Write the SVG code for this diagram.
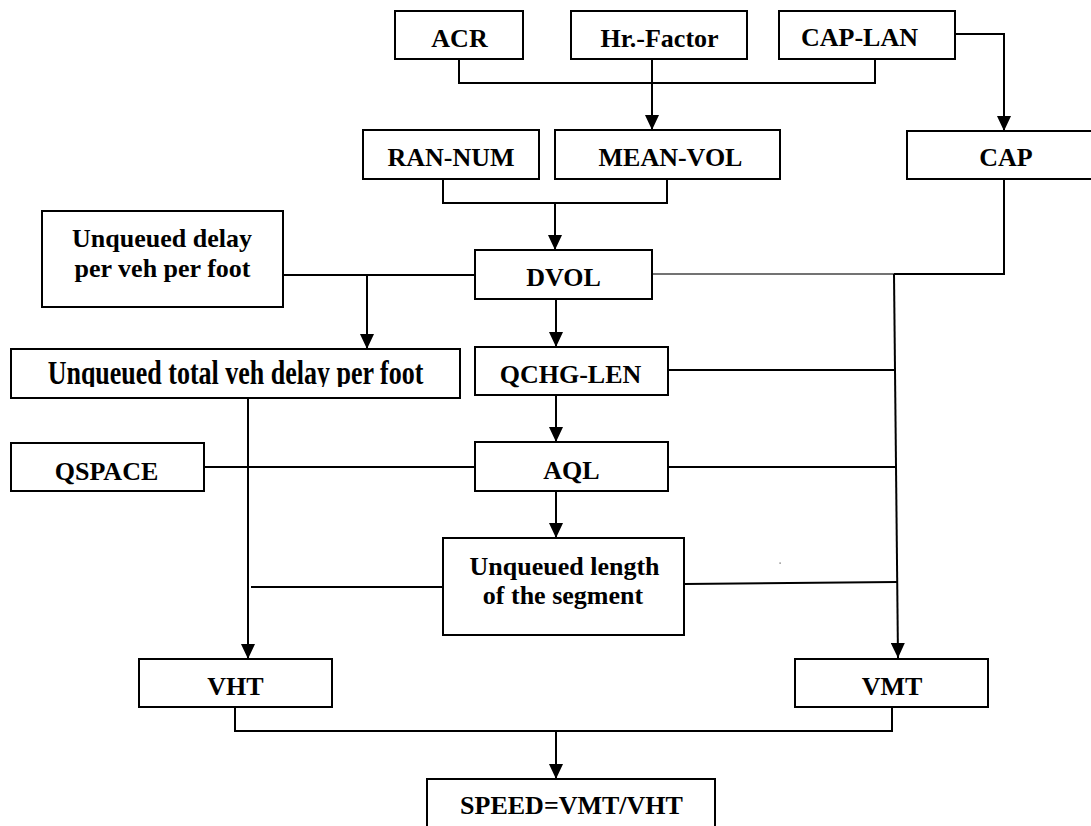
<svg xmlns="http://www.w3.org/2000/svg" width="1091" height="826" viewBox="0 0 1091 826">
  <defs>
    <marker id="arrow" viewBox="0 0 15 14" markerUnits="userSpaceOnUse" markerWidth="15" markerHeight="14" refX="15" refY="7" orient="auto">
      <path d="M0,0 L15,7 L0,14 z" fill="#000"/>
    </marker>
    <clipPath id="clipTotal">
      <rect x="11" y="349" width="449" height="38"/>
    </clipPath>
  </defs>
  <style>
    .box { fill: #fff; stroke: #000; stroke-width: 2; }
    .edge { fill: none; stroke: #000; stroke-width: 2; }
    .thin { fill: none; stroke: #444; stroke-width: 1.5; }
    .lbl { font-family: "Liberation Serif", "Times New Roman", serif; font-weight: bold; font-size: 26px; fill: #000; text-anchor: middle; }
  </style>
  <rect x="0" y="0" width="1091" height="826" fill="#fff"/>

  <!-- connectors -->
  <g id="connectors">
    <path class="edge" d="M459,59 V83 H875 V59"/>
    <path class="edge" d="M652,59 V130" marker-end="url(#arrow)"/>
    <path class="edge" d="M955,34 H1004 V131" marker-end="url(#arrow)"/>
    <path class="edge" d="M443,179 V203 H667 V179"/>
    <path class="edge" d="M555,203 V250" marker-end="url(#arrow)"/>
    <path class="edge" d="M1004,179 V274 H894"/>
    <path class="thin" d="M652,274 H894"/>
    <path class="edge" d="M894,274 L898,658" marker-end="url(#arrow)"/>
    <path class="edge" d="M668,370 H895"/>
    <path class="edge" d="M668,467 H896"/>
    <path class="edge" d="M684,584 L897,582"/>
    <path class="edge" d="M283,275 H475"/>
    <path class="edge" d="M367,275 V349" marker-end="url(#arrow)"/>
    <path class="edge" d="M556,299 V347" marker-end="url(#arrow)"/>
    <path class="edge" d="M556,395 V442" marker-end="url(#arrow)"/>
    <path class="edge" d="M556,491 V538" marker-end="url(#arrow)"/>
    <path class="edge" d="M204,467 H475"/>
    <path class="edge" d="M248,398 V659" marker-end="url(#arrow)"/>
    <path class="edge" d="M251,587 H443"/>
    <path class="edge" d="M235,707 V731 H892 V707"/>
    <path class="edge" d="M556,731 V779" marker-end="url(#arrow)"/>
    <rect x="779.5" y="562.5" width="1.2" height="1.2" fill="#555"/>
  </g>

  <!-- nodes -->
  <g id="acr">
    <rect class="box" x="395" y="11" width="128" height="48"/>
    <text class="lbl" x="459.5" y="47">ACR</text>
  </g>
  <g id="hr-factor">
    <rect class="box" x="571" y="11" width="176" height="48"/>
    <text class="lbl" x="659.5" y="47">Hr.-Factor</text>
  </g>
  <g id="cap-lan">
    <rect class="box" x="779" y="11" width="176" height="48"/>
    <text class="lbl" x="859.5" y="46">CAP-LAN</text>
  </g>
  <g id="ran-num">
    <rect class="box" x="363" y="130" width="176" height="49"/>
    <text class="lbl" x="451" y="166">RAN-NUM</text>
  </g>
  <g id="mean-vol">
    <rect class="box" x="555" y="130" width="225" height="49"/>
    <text class="lbl" x="670.5" y="166">MEAN-VOL</text>
  </g>
  <g id="cap">
    <rect x="907" y="131" width="190" height="48" fill="#fff"/>
    <path class="edge" d="M1095,131 H907 V179 H1095"/>
    <text class="lbl" x="1006" y="166">CAP</text>
  </g>
  <g id="unqueued-delay">
    <rect class="box" x="42" y="211" width="241" height="96"/>
    <text class="lbl" x="162" y="247">Unqueued delay</text>
    <text class="lbl" x="162.5" y="277">per veh per foot</text>
  </g>
  <g id="dvol">
    <rect class="box" x="475" y="250" width="177" height="49"/>
    <text class="lbl" x="563.5" y="286">DVOL</text>
  </g>
  <g id="unqueued-total">
    <rect class="box" x="11" y="349" width="449" height="49"/>
    <g clip-path="url(#clipTotal)">
      <text class="lbl" transform="translate(235.5,384) scale(1,1.27)" x="0" y="0">Unqueued total veh delay per foot</text>
    </g>
  </g>
  <g id="qchg-len">
    <rect class="box" x="475" y="347" width="193" height="48"/>
    <text class="lbl" x="570.5" y="383">QCHG-LEN</text>
  </g>
  <g id="qspace">
    <rect class="box" x="11" y="443" width="193" height="48"/>
    <text class="lbl" x="106.5" y="480">QSPACE</text>
  </g>
  <g id="aql">
    <rect class="box" x="475" y="442" width="193" height="49"/>
    <text class="lbl" x="571.5" y="479">AQL</text>
  </g>
  <g id="unqueued-length">
    <rect class="box" x="443" y="538" width="241" height="97"/>
    <text class="lbl" x="564.5" y="575">Unqueued length</text>
    <text class="lbl" x="563" y="604">of the segment</text>
  </g>
  <g id="vht">
    <rect class="box" x="139" y="659" width="193" height="48"/>
    <text class="lbl" x="235.5" y="695">VHT</text>
  </g>
  <g id="vmt">
    <rect class="box" x="795" y="659" width="193" height="48"/>
    <text class="lbl" x="892" y="695">VMT</text>
  </g>
  <g id="speed">
    <rect class="box" x="427" y="779" width="288" height="60"/>
    <text class="lbl" x="571.5" y="814">SPEED=VMT/VHT</text>
  </g>
</svg>
